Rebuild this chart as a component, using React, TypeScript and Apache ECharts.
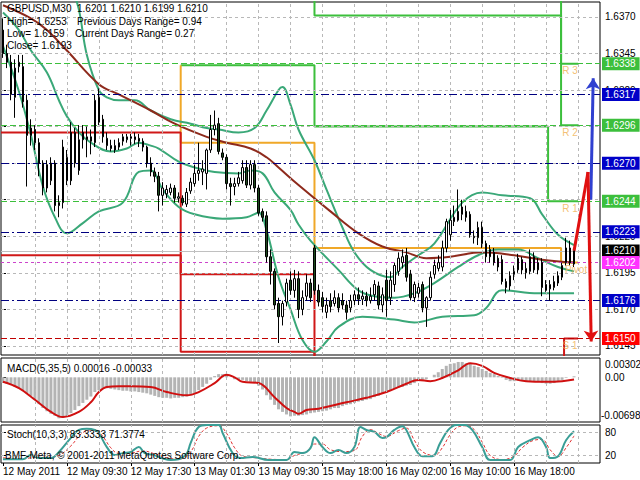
import React, { useEffect, useRef } from "react";
import * as echarts from "echarts";

const FONT = "'Liberation Sans', Arial, sans-serif";

// ---- price candles [open, close, low, high], one per M30 bar ----
const candles: number[][] = [
  [1.6361,1.6345,1.6342,1.6369],[1.6345,1.6339,1.6335,1.6351],[1.6339,1.6317,1.6313,1.6344],[1.6315,1.6335,1.6301,1.6341],
  [1.6336,1.6339,1.6332,1.6344],[1.6336,1.6312,1.6308,1.6344],[1.6313,1.6289,1.6254,1.6317],[1.6289,1.6294,1.6282,1.6300],
  [1.6293,1.6284,1.6279,1.6296],[1.6284,1.6270,1.6261,1.6287],[1.6270,1.6253,1.6248,1.6272],[1.6253,1.6269,1.6250,1.6272],
  [1.6258,1.6270,1.6255,1.6274],[1.6270,1.6241,1.6237,1.6272],[1.6243,1.6241,1.6233,1.6248],[1.6243,1.6281,1.6239,1.6286],
  [1.6258,1.6274,1.6255,1.6279],[1.6291,1.6258,1.6255,1.6298],[1.6270,1.6291,1.6267,1.6294],[1.6265,1.6286,1.6262,1.6296],
  [1.6291,1.6286,1.6280,1.6296],[1.6286,1.6288,1.6274,1.6295],[1.6288,1.6285,1.6276,1.6293],[1.6284,1.6313,1.6281,1.6317],
  [1.6315,1.6298,1.6296,1.6321],[1.6300,1.6288,1.6284,1.6303],[1.6287,1.6282,1.6279,1.6291],[1.6282,1.6280,1.6278,1.6286],
  [1.6279,1.6282,1.6277,1.6286],[1.6281,1.6284,1.6279,1.6287],[1.6285,1.6288,1.6282,1.6290],[1.6286,1.6288,1.6284,1.6290],
  [1.6287,1.6288,1.6282,1.6290],[1.6286,1.6288,1.6283,1.6291],[1.6287,1.6285,1.6281,1.6290],[1.6285,1.6281,1.6278,1.6287],
  [1.6281,1.6270,1.6267,1.6282],[1.6270,1.6264,1.6261,1.6274],[1.6264,1.6261,1.6257,1.6267],[1.6261,1.6248,1.6237,1.6264],
  [1.6248,1.6253,1.6241,1.6257],[1.6249,1.6252,1.6246,1.6255],[1.6250,1.6253,1.6248,1.6256],[1.6253,1.6246,1.6243,1.6255],
  [1.6246,1.6247,1.6243,1.6250],[1.6246,1.6243,1.6241,1.6248],[1.6242,1.6250,1.6240,1.6253],[1.6251,1.6257,1.6249,1.6260],
  [1.6256,1.6263,1.6254,1.6269],[1.6263,1.6265,1.6258,1.6284],[1.6264,1.6266,1.6255,1.6272],[1.6263,1.6279,1.6252,1.6280],
  [1.6279,1.6293,1.6277,1.6303],[1.6293,1.6296,1.6289,1.6306],[1.6297,1.6278,1.6276,1.6301],[1.6277,1.6274,1.6272,1.6280],
  [1.6274,1.6256,1.6252,1.6276],[1.6256,1.6254,1.6241,1.6260],[1.6254,1.6256,1.6248,1.6260],[1.6256,1.6260,1.6254,1.6264],
  [1.6258,1.6267,1.6256,1.6272],[1.6267,1.6255,1.6253,1.6272],[1.6255,1.6269,1.6252,1.6272],[1.6269,1.6253,1.6250,1.6272],
  [1.6253,1.6236,1.6234,1.6255],[1.6237,1.6233,1.6230,1.6239],[1.6234,1.6206,1.6202,1.6237],[1.6206,1.6196,1.6187,1.6211],
  [1.6196,1.6173,1.6170,1.6198],[1.6174,1.6165,1.6147,1.6178],[1.6165,1.6174,1.6159,1.6176],[1.6175,1.6188,1.6172,1.6191],
  [1.6190,1.6183,1.6180,1.6196],[1.6183,1.6191,1.6178,1.6197],[1.6191,1.6170,1.6164,1.6196],[1.6170,1.6178,1.6166,1.6183],
  [1.6179,1.6188,1.6176,1.6194],[1.6188,1.6178,1.6175,1.6191],[1.6212,1.6183,1.6180,1.6214],[1.6183,1.6175,1.6172,1.6187],
  [1.6178,1.6172,1.6168,1.6182],[1.6168,1.6173,1.6164,1.6178],[1.6176,1.6172,1.6168,1.6181],[1.6174,1.6178,1.6172,1.6183],
  [1.6178,1.6171,1.6168,1.6181],[1.6176,1.6173,1.6170,1.6181],[1.6173,1.6168,1.6163,1.6176],[1.6171,1.6176,1.6168,1.6180],
  [1.6176,1.6180,1.6173,1.6183],[1.6180,1.6177,1.6173,1.6185],[1.6177,1.6179,1.6173,1.6183],[1.6179,1.6176,1.6172,1.6182],
  [1.6176,1.6179,1.6174,1.6185],[1.6180,1.6187,1.6176,1.6190],[1.6186,1.6173,1.6170,1.6189],[1.6173,1.6180,1.6168,1.6185],
  [1.6190,1.6176,1.6165,1.6197],[1.6178,1.6190,1.6173,1.6196],[1.6187,1.6200,1.6182,1.6202],[1.6196,1.6205,1.6193,1.6209],
  [1.6202,1.6206,1.6198,1.6211],[1.6207,1.6192,1.6189,1.6212],[1.6194,1.6178,1.6176,1.6197],[1.6178,1.6187,1.6175,1.6189],
  [1.6181,1.6185,1.6178,1.6188],[1.6187,1.6171,1.6168,1.6189],[1.6171,1.6178,1.6158,1.6179],[1.6178,1.6192,1.6176,1.6196],
  [1.6194,1.6200,1.6191,1.6204],[1.6198,1.6202,1.6196,1.6207],[1.6199,1.6212,1.6196,1.6217],[1.6212,1.6230,1.6209,1.6232],
  [1.6221,1.6231,1.6217,1.6238],[1.6230,1.6233,1.6227,1.6241],[1.6231,1.6237,1.6230,1.6252],[1.6235,1.6240,1.6231,1.6245],
  [1.6237,1.6233,1.6230,1.6241],[1.6235,1.6221,1.6219,1.6237],[1.6219,1.6220,1.6215,1.6224],[1.6219,1.6226,1.6214,1.6230],
  [1.6226,1.6215,1.6212,1.6230],[1.6215,1.6206,1.6202,1.6217],[1.6211,1.6206,1.6202,1.6214],[1.6209,1.6202,1.6200,1.6212],
  [1.6205,1.6199,1.6196,1.6207],[1.6204,1.6189,1.6187,1.6207],[1.6189,1.6185,1.6181,1.6191],[1.6186,1.6193,1.6183,1.6196],
  [1.6194,1.6196,1.6190,1.6200],[1.6197,1.6205,1.6195,1.6208],[1.6204,1.6197,1.6194,1.6206],[1.6195,1.6198,1.6191,1.6202],
  [1.6196,1.6206,1.6194,1.6211],[1.6206,1.6197,1.6195,1.6209],[1.6197,1.6202,1.6194,1.6205],[1.6202,1.6185,1.6179,1.6205],
  [1.6187,1.6183,1.6182,1.6190],[1.6184,1.6187,1.6176,1.6190],[1.6185,1.6189,1.6183,1.6193],[1.6188,1.6193,1.6186,1.6196],
  [1.6192,1.6200,1.6190,1.6202],[1.6202,1.6212,1.6200,1.6219],[1.6212,1.6202,1.6200,1.6217],[1.6201,1.6210,1.6199,1.6210],
];

// ---- indicator lines, [bar index, value] ----
const maLine = [[0,1.6378],[7,1.6369],[11,1.6361],[16,1.6347],[24,1.6324],[29,1.6317],[37,1.6306],[43,1.6297],[51,1.6288],[56,1.6284],[62,1.6280],[66,1.6274],[69,1.6267],[74,1.6255],[82,1.6237],[89,1.6222],[95,1.6213],[101,1.6209],[106,1.6205],[112,1.6206],[120,1.6209],[128,1.6207],[135,1.6204],[143,1.6202]];
const bbUpper = [[17,1.6392],[19,1.6375],[21,1.6344],[24,1.6320],[26,1.6315],[29,1.6313],[33,1.6313],[37,1.6306],[42,1.6300],[47,1.6297],[51,1.6294],[54,1.6293],[59,1.6291],[63,1.6294],[66,1.6306],[69,1.6320],[70,1.6322],[72,1.6310],[74,1.6293],[78,1.6272],[81,1.6252],[85,1.6226],[88,1.6209],[92,1.6197],[97,1.6192],[100,1.6199],[104,1.6207],[108,1.6215],[115,1.6243],[120,1.6250],[125,1.6248],[132,1.6246],[135,1.6235],[139,1.6221],[143,1.6214]];
const bbMiddle = [[0,1.6373],[4,1.6361],[7,1.6347],[11,1.6332],[14,1.6313],[16,1.6302],[19,1.6291],[22,1.6284],[27,1.6278],[31,1.6280],[34,1.6284],[37,1.6282],[39,1.6280],[44,1.6271],[48,1.6267],[53,1.6264],[59,1.6263],[62,1.6265],[65,1.6263],[68,1.6250],[72,1.6238],[74,1.6228],[77,1.6217],[84,1.6197],[89,1.6183],[93,1.6179],[98,1.6178],[103,1.6181],[108,1.6188],[114,1.6199],[119,1.6207],[124,1.6211],[129,1.6211],[134,1.6205],[139,1.6199],[143,1.6196]];
const bbLower = [[0,1.6350],[4,1.6319],[7,1.6289],[10,1.6254],[13,1.6233],[16,1.6222],[20,1.6229],[24,1.6237],[30,1.6243],[34,1.6264],[37,1.6265],[40,1.6252],[44,1.6240],[48,1.6235],[55,1.6232],[61,1.6233],[64,1.6236],[66,1.6224],[69,1.6192],[72,1.6170],[75,1.6149],[78,1.6141],[81,1.6148],[84,1.6158],[90,1.6165],[98,1.6163],[103,1.6161],[110,1.6165],[118,1.6166],[121,1.6171],[125,1.6183],[134,1.6181],[143,1.6181]];

// ---- daily pivot history (step lines) ----
const r3Line = [[139.75,1.6400],[139.75,1.6338],[144,1.6338]];
const r2Line = [[78,1.6400],[78,1.6371],[139.75,1.6371],[139.75,1.6296],[144,1.6296]];
const r1Line = [[44.5,1.6337],[78,1.6337],[78,1.6295],[136.5,1.6295],[136.5,1.6244],[144,1.6244]];
const pivotLine = [[44.5,1.6337],[44.5,1.6284],[78,1.6284],[78,1.6212],[139.75,1.6212],[139.75,1.6202],[144,1.6202]];
const s1Line = [[-0.5,1.6291],[44.5,1.6291],[44.5,1.6194],[78,1.6194],[78,1.6120]];
const s2Line = [[-0.5,1.6207],[44.5,1.6207],[44.5,1.6141],[78,1.6141],[78,1.6120]];
const s1Now = [[140.5,1.6120],[140.5,1.6150],[144,1.6150]];

// ---- current levels ----
const greenLevels = [1.6338, 1.6296, 1.6244];
const blueLevels = [1.6317, 1.6270, 1.6223, 1.6176];
const pivotLevel = 1.6202;
const supportLevel = 1.6150;
const lastPrice = 1.6210;
const tagNames = ["R 3", "R 2", "R 1", "Pivot", "S 1"];
const tagLevels = [1.6338, 1.6296, 1.6244, 1.6202, 1.6150];
const tagBars = [142, 142, 142, 143.5, 142];

// ---- drawn arrows ----
const blueArrow = [[147.2,1.6245],[147.8,1.6328]];
const redArrowUp = [[143,1.6210],[146.5,1.6264]];
const redArrowDown = [[146.5,1.6264],[147.3,1.6148]];

// ---- MACD ----
const macdHist = [
  -0.0009,-0.0010,-0.0012,-0.0015,-0.0017,-0.0020,-0.0025,-0.0029,-0.0035,-0.0042,
  -0.0048,-0.0053,-0.0057,-0.0060,-0.0064,-0.0063,-0.0062,-0.0056,-0.0051,-0.0045,
  -0.0040,-0.0035,-0.0030,-0.0023,-0.0020,-0.0018,-0.0017,-0.0018,-0.0019,-0.0020,
  -0.0021,-0.0021,-0.0022,-0.0022,-0.0023,-0.0024,-0.0025,-0.0027,-0.0029,-0.0031,
  -0.0032,-0.0032,-0.0033,-0.0032,-0.0032,-0.0031,-0.0030,-0.0028,-0.0025,-0.0020,
  -0.0015,-0.0010,-0.0004,0.0002,0.0005,0.0005,0.0004,0.0000,-0.0003,-0.0004,
  -0.0004,-0.0006,-0.0007,-0.0009,-0.0013,-0.0019,-0.0028,-0.0035,-0.0043,-0.0050,
  -0.0054,-0.0058,-0.0061,-0.0060,-0.0060,-0.0059,-0.0058,-0.0056,-0.0055,-0.0054,
  -0.0053,-0.0052,-0.0050,-0.0048,-0.0048,-0.0045,-0.0043,-0.0042,-0.0040,-0.0038,
  -0.0037,-0.0035,-0.0034,-0.0031,-0.0029,-0.0026,-0.0024,-0.0021,-0.0018,-0.0016,
  -0.0015,-0.0013,-0.0012,-0.0009,-0.0006,-0.0004,-0.0003,0.0000,0.0004,0.0008,
  0.0013,0.0018,0.0021,0.0022,0.0024,0.0024,0.0022,0.0021,0.0018,0.0016,
  0.0013,0.0010,0.0007,0.0005,0.0002,-0.0001,-0.0004,-0.0006,-0.0006,-0.0005,
  -0.0006,-0.0007,-0.0006,-0.0007,-0.0007,-0.0009,-0.0010,-0.0010,-0.0009,-0.0007,
  -0.0004,-0.0001,0.0000,0.00016,
];
const macdSignal = [[0,-0.0007],[4,-0.0017],[8,-0.0035],[12,-0.0054],[15,-0.0062],[19,-0.0054],[22,-0.0039],[24,-0.0023],[26,-0.0015],[29,-0.0014],[32,-0.0014],[37,-0.0015],[41,-0.0023],[46,-0.0028],[49,-0.0023],[53,-0.0009],[56,0.0004],[58,0.0000],[60,-0.0007],[64,-0.0009],[68,-0.0031],[71,-0.0048],[73,-0.0054],[74,-0.0057],[76,-0.0051],[79,-0.0049],[86,-0.0039],[91,-0.0032],[96,-0.0023],[101,-0.0010],[104,-0.0004],[107,-0.0006],[110,-0.0001],[114,0.0011],[117,0.0022],[120,0.0018],[123,0.0007],[127,-0.0001],[131,-0.0006],[136,-0.0007],[140,-0.0006],[143,-0.00033]];
const macdMax = 0.00302;
const macdMin = -0.00698;

// ---- Stochastic ----
const stochK = [[0,10],[5,10],[7,21],[9,13],[12,13],[14,29],[17,66],[19,87],[21,90],[23,87],[24,79],[26,42],[28,21],[30,26],[32,29],[34,42],[35.5,26],[38,20],[40,12],[42,8],[44,10],[46,25],[47,53],[49,95],[51,100],[54,100],[55,79],[57.5,26],[59.5,13],[62.5,16],[66.5,8],[71,8],[73,29],[75,26],[77,39],[78,68],[80,42],[82,26],[84,34],[86,26],[88,42],[89.5,95],[91,87],[93,82],[95,66],[96,68],[98,87],[100,97],[101,87],[103,42],[105,18],[107.5,18],[109.5,53],[111.5,87],[113.5,100],[115.5,100],[117.5,87],[120,42],[122,8],[127,8],[129,42],[132,60],[134,68],[136,42],[137,13],[139,18],[141,60],[143,83.3333]];
const stochD = [[0,14],[5,11],[8,15],[11,15],[14,20],[17,45],[20,80],[23,88],[25,70],[27,40],[29,25],[32,26],[35,32],[38,24],[41,14],[44,10],[47,30],[49,70],[51,92],[54,98],[56,78],[58,40],[60,18],[63,14],[67,10],[71,9],[73,20],[76,30],[78,50],[80,50],[82,35],[85,30],[88,33],[90,70],[92,88],[94,78],[96,70],[99,85],[101,92],[103,60],[105,30],[108,20],[110,40],[112,75],[114,95],[116,98],[118,88],[120,55],[122,20],[125,9],[128,18],[130,40],[133,60],[135,62],[137,35],[139,17],[141,40],[143,71.3774]];
const stochLevels = [20, 80];

// ---- axis labels ----
const priceTicks = [1.6145, 1.6170, 1.6195, 1.6220, 1.6245, 1.6270, 1.6295, 1.6320, 1.6345, 1.6370];
const timeLabelBars = [0, 16, 32, 48, 64, 80, 96, 112, 128];
const timeLabels = ["12 May 2011", "12 May 09:30", "12 May 17:30", "13 May 01:30", "13 May 09:30", "15 May 18:00", "16 May 02:00", "16 May 10:00", "16 May 18:00"];

const infoTexts = [
  { t: "GBPUSD,M30  1.6201 1.6210 1.6199 1.6210", x: 7, y: 8 },
  { t: "High= 1.6253", x: 7, y: 21 },
  { t: "Previous Days Range= 0.94", x: 77, y: 21 },
  { t: "Low= 1.6159", x: 7, y: 33 },
  { t: "Current Days Range= 0.27", x: 75, y: 33 },
  { t: "Close= 1.6193", x: 7, y: 45 },
  { t: "MACD(5,35,5) 0.00016 -0.00033", x: 7, y: 368 },
  { t: "Stoch(10,3,3) 83.3333 71.3774", x: 7, y: 434 },
  { t: "BMF-Meta, \u00a9 2001-2011 MetaQuotes Software Corp.", x: 5, y: 455 },
];

const GREEN = "#3cbf3c";
const BLUE = "#0000c8";
const NAVY = "#000080";
const MAGENTA = "#ff33ff";
const BAND = "#3aa878";

function buildOption() {
  const vGrid = [8, 16, 24, 32, 40, 48, 56, 64, 72, 80, 88, 96, 104, 112, 120, 128, 136, 144];
  const gridLineStyle = { color: "#b8b8b8", type: [3, 3] as any, width: 1 };
  const vLines = vGrid.map((v) => ({ xAxis: v, lineStyle: gridLineStyle }));

  const boxLabel = (bg: string, txt: string) => ({
    show: true, position: "end", distance: 2, formatter: txt,
    color: "#fff", backgroundColor: bg, padding: [1, 4, 0, 3],
    fontSize: 10, fontFamily: FONT, lineHeight: 12,
  });

  const levelLines: any[] = [
    ...greenLevels.map((v) => ({ yAxis: v, lineStyle: { color: GREEN, type: [6, 3], width: 1 }, label: boxLabel(GREEN, v.toFixed(4)) })),
    ...blueLevels.map((v) => ({ yAxis: v, lineStyle: { color: NAVY, type: [8, 3, 2, 3], width: 1 }, label: boxLabel(BLUE, v.toFixed(4)) })),
    { yAxis: lastPrice, lineStyle: { color: "#c0c0c0", type: "solid", width: 1 }, label: boxLabel("#000", lastPrice.toFixed(4)) },
    { yAxis: pivotLevel, lineStyle: { color: "#cc44cc", type: [3, 3], width: 1 }, label: boxLabel(MAGENTA, pivotLevel.toFixed(4)) },
    { yAxis: supportLevel, lineStyle: { color: "#c00000", type: [6, 3], width: 1 }, label: boxLabel("#ff0000", supportLevel.toFixed(4)) },
  ];

  const helper = (xi: number, yi: number, y0: number, data: any[], z = 1) => ({
    type: "line", xAxisIndex: xi, yAxisIndex: yi, z, silent: true,
    data: [[0, y0]], symbol: "none", lineStyle: { opacity: 0 },
    markLine: { silent: true, precision: 6, symbol: ["none", "none"], animation: false, label: { show: false }, data },
  });

  const stepSeries = (data: number[][], color: string) => ({
    type: "line", xAxisIndex: 0, yAxisIndex: 0, data, symbol: "none", z: 3,
    lineStyle: { color, width: 2 }, silent: true,
  });
  const curve = (xi: number, yi: number, data: number[][], color: string, width: number, extra: any = {}) => ({
    type: "line", xAxisIndex: xi, yAxisIndex: yi, data, symbol: "none", smooth: 0.4, z: 4,
    lineStyle: { color, width, ...extra }, silent: true,
  });

  const xAxisBase = { type: "value", min: -0.5, max: 149.5, axisLine: { show: false }, splitLine: { show: false } };

  return {
    animation: false,
    backgroundColor: "#ffffff",
    grid: [
      { left: 1, top: 2, width: 599, height: 353, show: true, borderColor: "#000", borderWidth: 1, outerBoundsMode: "none" },
      { left: 1, top: 358, width: 599, height: 64, show: true, borderColor: "#000", borderWidth: 1, outerBoundsMode: "none" },
      { left: 1, top: 425, width: 599, height: 38, show: true, borderColor: "#000", borderWidth: 1, outerBoundsMode: "none" },
    ],
    xAxis: [
      { ...xAxisBase, gridIndex: 0, axisTick: { show: false }, axisLabel: { show: false } },
      { ...xAxisBase, gridIndex: 1, axisTick: { show: false }, axisLabel: { show: false } },
      {
        ...xAxisBase, gridIndex: 2,
        axisTick: { show: true, customValues: timeLabelBars, length: 3, lineStyle: { color: "#000" } },
        axisLabel: {
          show: true, customValues: timeLabelBars, align: "left", margin: 3,
          formatter: (v: number) => timeLabels[timeLabelBars.indexOf(Math.round(v))] ?? "",
          color: "#000", fontSize: 10, fontFamily: FONT,
        },
      },
    ],
    yAxis: [
      {
        type: "value", gridIndex: 0, position: "right", min: 1.61388, max: 1.63802,
        axisLine: { show: false }, splitLine: { show: false },
        axisTick: { show: true, customValues: priceTicks, length: 3, lineStyle: { color: "#000" } },
        axisLabel: { customValues: priceTicks, formatter: (v: number) => v.toFixed(4), color: "#000", fontSize: 10, fontFamily: FONT, margin: 5 },
      },
      {
        type: "value", gridIndex: 1, position: "right", min: macdMin, max: macdMax,
        axisLine: { show: false }, splitLine: { show: false },
        axisTick: { show: true, customValues: [0], length: 3, lineStyle: { color: "#000" } },
        axisLabel: {
          customValues: [macdMin, 0, macdMax], margin: 1, color: "#000", fontSize: 10, fontFamily: FONT,
          formatter: (v: number) => (v > 0.001 ? "{t|" + macdMax.toFixed(5) + "}" : v < -0.001 ? "{b|" + macdMin.toFixed(5) + "}" : "{z|0.00}"),
          rich: {
            t: { padding: [13, 0, 0, 4], fontSize: 10, fontFamily: FONT, color: "#000" },
            b: { padding: [0, 0, 13, 0], fontSize: 10, fontFamily: FONT, color: "#000" },
            z: { padding: [0, 0, 0, 4], fontSize: 10, fontFamily: FONT, color: "#000" },
          },
        },
      },
      {
        type: "value", gridIndex: 2, position: "right", min: 0, max: 100,
        axisLine: { show: false }, splitLine: { show: false },
        axisTick: { show: true, customValues: stochLevels, length: 3, lineStyle: { color: "#000" } },
        axisLabel: {
          customValues: [0, 20, 80, 100], margin: 5, color: "#000", fontSize: 10, fontFamily: FONT,
          formatter: (v: number) => (v === 100 ? "{t|100}" : v === 0 ? "{b|0}" : String(v)),
          rich: {
            t: { padding: [13, 0, 0, 0], fontSize: 10, fontFamily: FONT, color: "#000" },
            b: { padding: [0, 0, 13, 0], fontSize: 10, fontFamily: FONT, color: "#000" },
          },
        },
      },
    ],
    series: [
      helper(0, 0, 1.62, [...vLines, ...priceTicks.map((v) => ({ yAxis: v, lineStyle: gridLineStyle }))], 1),
      helper(0, 0, 1.62, levelLines, 2),
      stepSeries(r3Line, GREEN),
      stepSeries(r2Line, GREEN),
      stepSeries(r1Line, GREEN),
      stepSeries(pivotLine, "#f0a828"),
      stepSeries(s1Line, "#d01818"),
      stepSeries(s2Line, "#d01818"),
      stepSeries(s1Now, "#d01818"),
      curve(0, 0, bbUpper, BAND, 2),
      curve(0, 0, bbMiddle, BAND, 2),
      curve(0, 0, bbLower, BAND, 2),
      curve(0, 0, maLine, "#8e2a1c", 2),
      {
        type: "candlestick", xAxisIndex: 0, yAxisIndex: 0, z: 6, barWidth: 2, silent: true,
        data: candles.map((c, i) => [i, c[0], c[1], c[2], c[3]]),
        itemStyle: { color: "#ffffff", color0: "#1d4a1d", borderColor: "#000000", borderColor0: "#000000", borderWidth: 1 },
      },
      {
        type: "scatter", xAxisIndex: 0, yAxisIndex: 0, z: 7, symbolSize: 0, silent: true,
        data: tagNames.map((n, k) => ({ name: n, value: [tagBars[k], tagLevels[k]] })),
        label: { show: true, position: "bottom", distance: 2, formatter: "{b}", color: "#f0b050", fontSize: 10, fontFamily: FONT },
      },
      {
        type: "line", xAxisIndex: 0, yAxisIndex: 0, z: 8, silent: true, data: [[0, 1.62]], symbol: "none", lineStyle: { opacity: 0 },
        markLine: {
          silent: true, animation: false, precision: 6, label: { show: false }, symbol: ["none", "arrow"], symbolSize: 11,
          data: [
            [{ coord: blueArrow[0], lineStyle: { color: "#3040d0", width: 3, type: "solid" } }, { coord: blueArrow[1] }],
            [{ coord: redArrowUp[0], symbol: "none", lineStyle: { color: "#e01010", width: 3, type: "solid" } }, { coord: redArrowUp[1], symbol: "none" }],
            [{ coord: redArrowDown[0], lineStyle: { color: "#e01010", width: 3, type: "solid" } }, { coord: redArrowDown[1] }],
          ],
        },
      },
      // MACD
      helper(1, 1, 0, vLines, 1),
      {
        type: "bar", xAxisIndex: 1, yAxisIndex: 1, barWidth: 3, z: 2, silent: true,
        data: macdHist.map((v, i) => [i, v]), itemStyle: { color: "#b4b4b4" },
      },
      curve(1, 1, macdSignal, "#d01010", 2),
      // Stochastic
      helper(2, 2, 50, [...vLines, ...stochLevels.map((v) => ({ yAxis: v, lineStyle: gridLineStyle }))], 1),
      curve(2, 2, stochD, "#e03030", 1, { type: [3, 2] }),
      curve(2, 2, stochK, "#3a9e96", 2),
    ],
    graphic: infoTexts.map((it) => ({
      type: "text", x: it.x, y: it.y, z: 100, silent: true,
      style: { text: it.t, fill: "#000", font: `10px ${FONT}`, verticalAlign: "middle" },
    })),
  };
}

export default function App() {
  const ref = useRef<HTMLDivElement>(null);
  useEffect(() => {
    if (!ref.current) return;
    const chart = echarts.init(ref.current, null, { renderer: "svg" });
    chart.setOption(buildOption() as any);
    return () => chart.dispose();
  }, []);
  return (
    <div
      ref={ref}
      style={{ position: "fixed", left: 0, top: 0, width: 640, height: 480, background: "#fff" }}
    />
  );
}
